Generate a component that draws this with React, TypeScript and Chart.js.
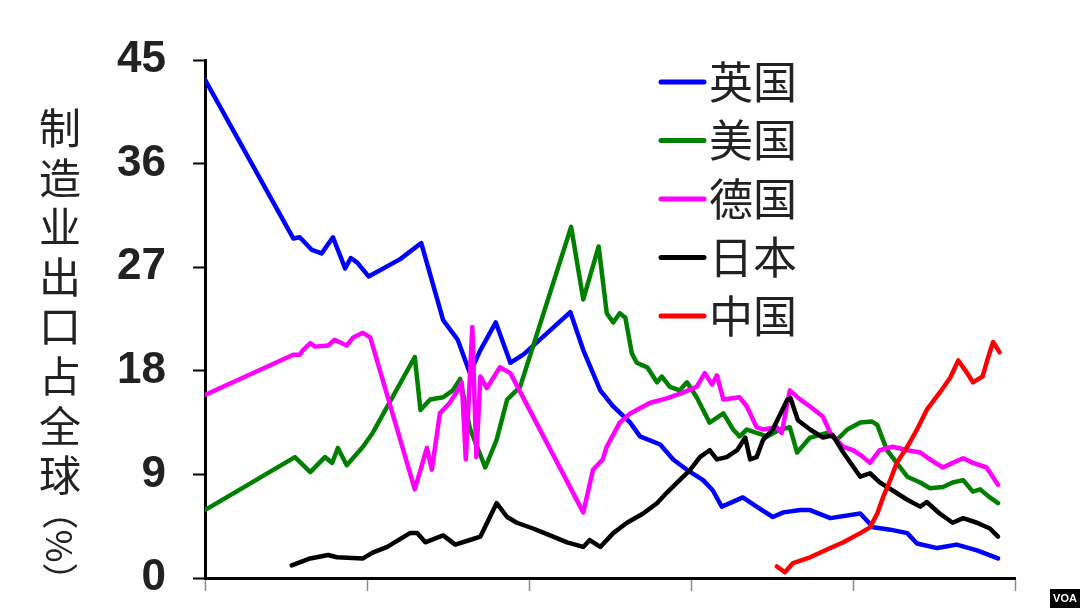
import React, { useEffect, useRef } from 'react';
import { Chart, registerables } from 'chart.js';

Chart.register(...registerables);

// ---- Data (x: position along the unlabeled time axis, 0..100; y: share in %) ----
const X_TICKS = [0, 20, 40, 60, 80, 100];
const Y_TICKS = [0, 9, 18, 27, 36, 45];
const SERIES_NAMES = ['英国', '美国', '德国', '日本', '中国'];
const SERIES_COLORS = ['#0000ff', '#008000', '#ff00ff', '#000000', '#ff0000'];
const Y_TITLE_CHARS = ['制', '造', '业', '出', '口', '占', '全', '球'];
const Y_TITLE_UNIT = '（%）';

const UK_X = [0, 10.9, 11.7, 13.2, 14.4, 15.8, 17.3, 18.0, 18.8, 20.2, 24.1, 26.7, 29.4, 31.2, 32.7, 34.0, 35.9, 37.7, 39.3, 45.1, 46.7, 48.8, 50.4, 52.5, 53.7, 56.2, 57.8, 59.5, 61.5, 62.7, 63.8, 64.8, 66.4, 68.1, 70.1, 71.4, 73.5, 74.7, 77.2, 80.9, 82.5, 84.6, 86.7, 87.9, 90.4, 92.8, 95.3, 97.9];
const UK_Y = [43.3, 29.5, 29.6, 28.5, 28.2, 29.6, 26.9, 27.8, 27.4, 26.2, 27.7, 29.1, 22.4, 20.7, 17.8, 19.8, 22.2, 18.7, 19.4, 23.1, 19.8, 16.3, 14.9, 13.5, 12.3, 11.6, 10.3, 9.4, 8.5, 7.6, 6.2, 6.5, 7.0, 6.2, 5.3, 5.7, 5.9, 5.9, 5.2, 5.6, 4.4, 4.2, 3.9, 3.0, 2.6, 2.9, 2.4, 1.7];

const US_X = [0, 11.1, 13.0, 14.8, 15.7, 16.4, 17.5, 19.5, 20.7, 25.9, 26.6, 27.8, 29.4, 30.6, 31.5, 32.7, 34.6, 36.0, 37.3, 38.9, 45.2, 46.7, 48.6, 49.6, 50.4, 51.2, 51.9, 52.7, 53.3, 54.6, 55.8, 56.4, 57.4, 58.6, 59.5, 60.7, 61.5, 62.3, 64.0, 65.2, 66.0, 66.9, 68.1, 69.4, 71.0, 72.2, 73.1, 74.7, 76.8, 78.0, 79.3, 80.9, 82.3, 83.0, 83.7, 84.2, 85.4, 86.7, 88.3, 89.5, 91.1, 92.3, 93.6, 94.8, 95.7, 96.9, 97.9];
const US_Y = [5.9, 10.5, 9.2, 10.5, 10.0, 11.3, 9.8, 11.4, 12.6, 19.2, 14.6, 15.5, 15.7, 16.3, 17.3, 13.0, 9.6, 12.0, 15.5, 16.6, 30.5, 24.2, 28.8, 23.0, 22.2, 23.0, 22.6, 19.5, 18.7, 18.3, 17.0, 17.5, 16.6, 16.3, 17.0, 15.7, 14.6, 13.5, 14.3, 12.9, 12.3, 12.9, 12.6, 12.3, 12.9, 13.1, 10.9, 12.2, 12.6, 12.0, 12.9, 13.5, 13.6, 13.3, 12.0, 11.1, 10.0, 8.8, 8.3, 7.8, 7.9, 8.3, 8.5, 7.5, 7.7, 7.0, 6.5];

const DE_X = [0, 10.9, 11.7, 12.1, 13.0, 13.6, 15.2, 16.0, 17.5, 18.3, 19.5, 20.4, 25.9, 27.4, 28.0, 29.0, 30.2, 31.2, 31.7, 32.2, 33.0, 33.5, 34.0, 34.8, 36.4, 37.7, 46.7, 47.9, 49.1, 49.6, 51.2, 52.5, 54.9, 57.0, 59.0, 60.7, 61.7, 62.6, 63.2, 64.0, 66.0, 66.9, 68.1, 68.9, 70.6, 71.2, 72.2, 73.5, 74.7, 76.3, 77.2, 78.8, 80.0, 80.9, 82.1, 83.3, 84.9, 86.7, 88.3, 89.5, 91.1, 92.3, 93.6, 94.8, 96.5, 97.9];
const DE_Y = [15.9, 19.4, 19.4, 19.8, 20.4, 20.1, 20.2, 20.7, 20.2, 20.9, 21.3, 20.9, 7.7, 11.3, 9.4, 14.3, 15.2, 16.3, 17.0, 10.3, 21.8, 10.5, 17.5, 16.5, 18.3, 17.8, 5.7, 9.4, 10.3, 11.4, 13.5, 14.3, 15.2, 15.6, 16.1, 16.6, 17.8, 16.8, 17.6, 15.5, 15.7, 14.9, 13.1, 12.9, 13.1, 12.6, 16.3, 15.5, 14.9, 14.0, 12.6, 11.4, 11.1, 10.7, 10.0, 11.1, 11.4, 11.1, 10.9, 10.3, 9.6, 10.0, 10.4, 10.0, 9.6, 8.1];

const JP_X = [10.7, 13.0, 15.2, 16.3, 19.5, 20.7, 22.5, 25.3, 26.2, 27.2, 29.4, 30.9, 32.7, 34.0, 36.0, 37.3, 38.5, 40.5, 42.6, 44.7, 46.7, 47.5, 48.8, 50.4, 52.1, 54.1, 55.8, 57.0, 58.6, 59.9, 61.1, 62.3, 63.2, 64.4, 65.7, 66.7, 67.3, 68.1, 68.9, 70.1, 71.9, 72.3, 73.2, 74.7, 76.3, 77.5, 78.8, 80.9, 82.1, 83.3, 84.9, 86.7, 88.3, 89.1, 90.7, 92.3, 93.6, 95.3, 96.9, 97.9];
const JP_Y = [1.1, 1.7, 2.0, 1.8, 1.7, 2.2, 2.7, 3.9, 3.9, 3.1, 3.7, 2.9, 3.3, 3.6, 6.5, 5.3, 4.8, 4.3, 3.7, 3.1, 2.7, 3.3, 2.7, 3.9, 4.8, 5.6, 6.5, 7.4, 8.5, 9.4, 10.5, 11.1, 10.3, 10.5, 11.1, 12.2, 10.3, 10.5, 12.0, 12.9, 15.5, 15.6, 13.7, 12.9, 12.2, 12.4, 10.9, 8.8, 9.1, 8.3, 7.6, 6.8, 6.2, 6.6, 5.6, 4.8, 5.2, 4.8, 4.3, 3.6];

const CN_X = [70.6, 71.6, 72.6, 74.7, 77.2, 78.8, 80.9, 82.1, 83.0, 83.7, 84.6, 85.4, 86.7, 87.9, 89.1, 90.7, 92.0, 93.0, 94.1, 94.8, 96.0, 96.7, 97.3, 98.1];
const CN_Y = [1.0, 0.5, 1.3, 1.8, 2.6, 3.1, 3.9, 4.4, 5.6, 7.0, 8.5, 10.0, 11.4, 12.9, 14.6, 16.1, 17.4, 18.9, 17.8, 17.0, 17.5, 19.2, 20.5, 19.6];

const SERIES_X = [UK_X, US_X, DE_X, JP_X, CN_X];
const SERIES_Y = [UK_Y, US_Y, DE_Y, JP_Y, CN_Y];

const zip = (xs: number[], ys: number[]) => xs.map((x, i) => ({ x, y: ys[i] }));

const decorPlugin = {
  id: 'decor',
  afterDraw(chart: any) {
    const ctx = chart.ctx as CanvasRenderingContext2D;
    ctx.save();
    // vertical y-axis title
    ctx.fillStyle = '#222';
    ctx.font = '400 42px "Noto Sans CJK SC"';
    ctx.textAlign = 'center';
    ctx.textBaseline = 'middle';
    Y_TITLE_CHARS.forEach((ch, i) => {
      ctx.fillText(ch, 60, 128 + i * 49.6);
    });
    ctx.save();
    ctx.translate(60, 546);
    ctx.rotate(Math.PI / 2);
    ctx.font = '400 36px "Noto Sans CJK SC"';
    ctx.fillText(Y_TITLE_UNIT, 0, 0);
    ctx.restore();

    // legend
    ctx.font = '400 44px "Noto Sans CJK SC"';
    ctx.textAlign = 'left';
    SERIES_NAMES.forEach((name, i) => {
      const y = 82 + i * 58.5;
      ctx.strokeStyle = SERIES_COLORS[i];
      ctx.lineWidth = 5;
      ctx.lineCap = 'round';
      ctx.beginPath();
      ctx.moveTo(661, y);
      ctx.lineTo(704, y);
      ctx.stroke();
      ctx.fillStyle = '#222';
      ctx.fillText(name, 709, y);
    });

    // VOA mark
    ctx.fillStyle = '#000';
    ctx.fillRect(1050, 589, 30, 19);
    ctx.fillStyle = '#fff';
    ctx.font = 'bold 11px "Liberation Sans"';
    ctx.textAlign = 'center';
    ctx.fillText('VOA', 1065, 599);
    ctx.restore();
  },
};

export default function App() {
  const ref = useRef<HTMLCanvasElement | null>(null);
  useEffect(() => {
    if (!ref.current) return;
    const datasets = SERIES_NAMES.map((name, i) => ({
      label: name,
      data: zip(SERIES_X[i], SERIES_Y[i]),
      borderColor: SERIES_COLORS[i],
      backgroundColor: SERIES_COLORS[i],
      borderWidth: 4.5,
      borderJoinStyle: 'round' as const,
      borderCapStyle: 'round' as const,
      pointRadius: 0,
      tension: 0,
      fill: false,
      order: SERIES_NAMES.length - 1 - i,
    }));
    const chart = new Chart(ref.current, {
      type: 'line',
      data: { datasets },
      options: {
        animation: false,
        responsive: false,
        devicePixelRatio: 1,
        layout: { padding: { left: 0, right: 65, top: 60, bottom: 0 } },
        plugins: { legend: { display: false }, tooltip: { enabled: false } },
        scales: {
          x: {
            type: 'linear',
            min: X_TICKS[0],
            max: X_TICKS[X_TICKS.length - 1],
            afterBuildTicks: (s: any) => { s.ticks = X_TICKS.map((v) => ({ value: v })); },
            afterFit: (s: any) => { s.height = 30; },
            ticks: { display: false },
            grid: { drawOnChartArea: false, drawTicks: true, tickLength: 13, tickWidth: 1.5, tickColor: '#888' },
            border: { display: true, color: '#000', width: 3 },
          },
          y: {
            min: Y_TICKS[0],
            max: Y_TICKS[Y_TICKS.length - 1],
            afterBuildTicks: (s: any) => { s.ticks = Y_TICKS.map((v) => ({ value: v })); },
            afterFit: (s: any) => { s.width = 205; },
            ticks: {
              padding: 27,
              color: '#222',
              font: { family: '"Liberation Sans", Arial, sans-serif', size: 44, weight: 'bold', lineHeight: 0.1 },
            },
            grid: { drawOnChartArea: false, drawTicks: true, tickLength: 12, tickWidth: 2, tickColor: '#000' },
            border: { display: true, color: '#000', width: 3 },
          },
        },
      },
      plugins: [decorPlugin],
    });
    return () => chart.destroy();
  }, []);
  return (
    <div style={{ position: 'fixed', left: 0, top: 0, width: 1080, height: 608, background: '#fff' }}>
      <canvas ref={ref} width={1080} height={608} />
    </div>
  );
}
